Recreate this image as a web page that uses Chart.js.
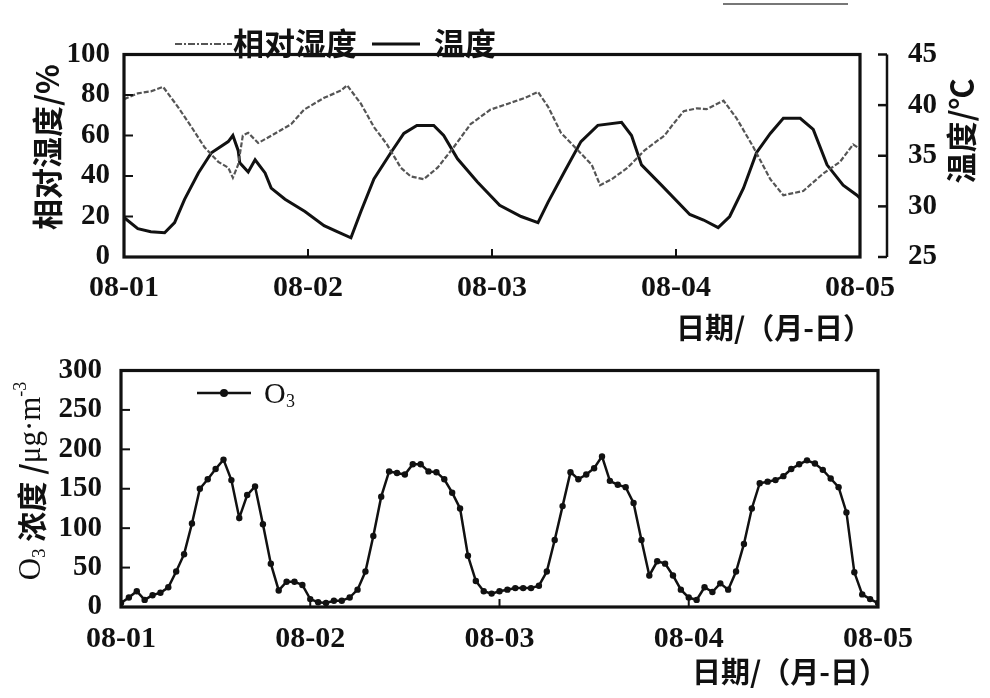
<!DOCTYPE html>
<html>
<head>
<meta charset="utf-8">
<script src="https://cdn.jsdelivr.net/npm/chart.js@4.4.0/dist/chart.umd.min.js"></script>
<style>
  html, body { margin: 0; padding: 0; background: #fff; }
  #wrap { position: relative; width: 990px; height: 698px; overflow: hidden; }
  #topChart { position: absolute; left: 0; top: 0; }
  #bottomChart { position: absolute; left: 0; top: 345px; }
  #cropLine { position: absolute; left: 723px; top: 3px; width: 125px; height: 2px; background: #777; }
</style>
</head>
<body>
<div id="wrap">
  <div id="cropLine"></div>
  <canvas id="topChart" width="990" height="345"></canvas>
  <canvas id="bottomChart" width="990" height="353"></canvas>
</div>
<script>
// x tick labels, one per day (hour 0, 24, 48, 72, 96)
const dateLabels = ['08-01', '08-02', '08-03', '08-04', '08-05'];

// temperature (°C), hours since 08-01 00:00
const tempHours = [0, 1.8, 3.5, 5.3, 6.6, 7.9, 9.7, 11.4, 13.6, 14.2, 14.9, 15.1, 16.2, 17.1, 18.4,
  19.2, 21, 23.6, 26.1, 27.8, 29.6, 30.9, 32.6, 34.8, 36.5, 38.2, 40.4, 41.7, 43.5, 46.1,
  49, 51.8, 54, 55.3, 57.5, 59.6, 61.8, 64.9, 66.2, 67.5, 70.1, 73.8, 75.6, 77.5, 79,
  80.8, 82.5, 84.3, 86, 88.2, 89.9, 91.7, 93.8, 95.6, 96];
const tempValues = [28.9, 27.8, 27.5, 27.4, 28.4, 30.7, 33.3, 35.3, 36.4, 37.0, 35.5, 34.3, 33.4, 34.6, 33.3,
  31.8, 30.7, 29.5, 28.1, 27.5, 26.9, 29.5, 32.7, 35.3, 37.2, 38.0, 38.0, 37.0, 34.7, 32.4,
  30.1, 29.0, 28.4, 30.4, 33.5, 36.4, 38.0, 38.3, 37.0, 34.1, 32.1, 29.2, 28.65, 27.9, 29.0,
  31.8, 35.3, 37.2, 38.7, 38.7, 37.6, 34.1, 32.1, 31.1, 30.8];

// relative humidity (%), dotted line
const humHours = [0, 1.8, 3.5, 5.1, 7, 8.8, 10.5, 12.3, 13.6, 14.2, 14.9, 15.5, 16.2, 17.5, 19.2,
  21.8, 23.5, 26.1, 28.3, 29.1, 30.9, 32.6, 34.3, 36.1, 37.4, 39.1, 40.9, 43, 45.2, 47.8,
  50.1, 52.3, 54, 55.3, 57, 59.2, 61, 62.1, 63.6, 65.7, 67.9, 70.5, 71.5, 73, 74.7,
  76, 78.2, 79.9, 82.1, 84.3, 86, 88.6, 91.2, 93.4, 95.1, 96];
const humValues = [77.9, 80.8, 81.8, 84, 74.3, 64.2, 54.2, 47, 44.1, 39.1, 45.7, 60, 61.3, 56.3, 59.9,
  65.6, 72.8, 78.6, 82.2, 84.8, 75.7, 64.2, 55.6, 44.1, 39.8, 38.4, 44.1, 54.2, 65.6, 72.8,
  75.7, 78.6, 81.5, 74.3, 61.3, 52.7, 45.6, 35.5, 38.4, 44.1, 52.7, 60, 65, 72, 73.4,
  73, 77.2, 68.5, 54.2, 38.4, 30.5, 32.6, 41.2, 47, 55.6, 53.4];

// hourly O3 (µg/m3), hour 0 .. 96
const o3Values = [
  5, 12, 20, 9, 15, 18, 25, 45, 67, 106, 150, 162, 175, 187, 161, 113, 142, 153, 105, 55, 21, 32, 32, 28, 10,
  6, 5, 8, 8, 12, 22, 45, 90, 140, 172, 170, 168, 181, 181, 172, 171, 162, 145, 125, 65, 33, 20, 17, 20,
  22, 24, 24, 24, 27, 45, 85, 128, 171, 162, 168, 176, 191, 160, 155, 152, 132, 85, 40, 58, 55, 40, 22, 12,
  9, 25, 19, 30, 22, 45, 80, 125, 157, 159, 161, 166, 175, 181, 186, 182, 174, 163, 152, 120, 44, 16, 10, 5
];

const serif = '"Liberation Serif", "Times New Roman", serif';
const cjk = '"Noto Sans CJK SC", "Noto Sans", sans-serif';
const ink = '#111';

function line(ctx, x1, y1, x2, y2) {
    ctx.beginPath();
    ctx.moveTo(x1, y1);
    ctx.lineTo(x2, y2);
    ctx.stroke();
}

function rotatedText(ctx, text, x, y, font) {
    ctx.save();
    ctx.translate(x, y);
    ctx.rotate(-Math.PI / 2);
    ctx.font = font;
    ctx.textAlign = 'center';
    ctx.textBaseline = 'middle';
    ctx.fillText(text, 0, 0);
    ctx.restore();
}

// box + inward ticks, shared by both charts
function drawFrame(chart) {
    const { ctx, chartArea: a } = chart;
    ctx.strokeStyle = ink;
    ctx.lineWidth = 3.2;
    ctx.strokeRect(a.left, a.top, a.right - a.left, a.bottom - a.top);
    ctx.lineWidth = 2;
    const xs = chart.scales.x;
    xs.ticks.forEach(t => {
        const px = xs.getPixelForValue(t.value);
        line(ctx, px, a.bottom, px, a.bottom - 8);
    });
    const ys = chart.scales.y;
    ys.ticks.forEach(t => {
        const py = ys.getPixelForValue(t.value);
        line(ctx, a.left, py, a.left + 9, py);
    });
}

const topDecor = {
    id: 'topDecor',
    afterDraw(chart) {
        const { ctx, chartArea: a } = chart;
        ctx.save();
        drawFrame(chart);

        // detached right axis for temperature
        const axisX = 887;
        const y1 = chart.scales.y1;
        ctx.lineWidth = 2.5;
        line(ctx, axisX, a.top, axisX, a.bottom);
        y1.ticks.forEach(t => {
            const py = y1.getPixelForValue(t.value);
            line(ctx, axisX, py, axisX - 9, py);
        });

        ctx.fillStyle = ink;
        rotatedText(ctx, '相对湿度/%', 47, 147, 'bold 31px ' + cjk);
        rotatedText(ctx, '温度/℃', 961, 131, 'bold 31px ' + cjk);

        ctx.font = 'bold 29px ' + cjk;
        ctx.textAlign = 'right';
        ctx.textBaseline = 'middle';
        ctx.fillText('日期/（月-日）', 872, 328);

        // legend inside the plot
        ctx.textAlign = 'left';
        ctx.font = 'bold 31px ' + cjk;
        ctx.strokeStyle = '#555';
        ctx.lineWidth = 2.2;
        ctx.setLineDash([7, 2, 2, 2]);
        line(ctx, 175, 44, 232, 44);
        ctx.setLineDash([]);
        ctx.fillText('相对湿度', 233, 43);
        ctx.strokeStyle = ink;
        ctx.lineWidth = 3;
        line(ctx, 372, 44, 420, 44);
        ctx.fillText('温度', 434, 43);
        ctx.restore();
    }
};

const bottomDecor = {
    id: 'bottomDecor',
    afterDraw(chart) {
        const { ctx } = chart;
        ctx.save();
        drawFrame(chart);
        ctx.fillStyle = ink;

        // y title: O3 浓度 /μg·m-3 with sub/superscripts
        const parts = [
            { t: 'O', f: '31px ' + serif, dy: 0 },
            { t: '3', f: '19px ' + serif, dy: 8 },
            { t: ' 浓度 /', f: 'bold 30px ' + cjk, dy: 0 },
            { t: 'μg·m', f: '31px ' + serif, dy: 0 },
            { t: '-3', f: '18px ' + serif, dy: -11 }
        ];
        let total = 0;
        parts.forEach(p => { ctx.font = p.f; p.w = ctx.measureText(p.t).width; total += p.w; });
        ctx.translate(32, 136);
        ctx.rotate(-Math.PI / 2);
        ctx.textBaseline = 'middle';
        ctx.textAlign = 'left';
        let cx = -total / 2;
        parts.forEach(p => { ctx.font = p.f; ctx.fillText(p.t, cx, p.dy); cx += p.w; });
        ctx.restore();
        ctx.save();
        ctx.fillStyle = ink;

        ctx.font = 'bold 29px ' + cjk;
        ctx.textAlign = 'right';
        ctx.textBaseline = 'middle';
        ctx.fillText('日期/（月-日）', 888, 327);

        // legend
        ctx.strokeStyle = ink;
        ctx.lineWidth = 2.5;
        line(ctx, 197, 48, 251, 48);
        ctx.beginPath();
        ctx.arc(224, 48, 4, 0, Math.PI * 2);
        ctx.fill();
        ctx.textAlign = 'left';
        ctx.font = '30px ' + serif;
        ctx.fillText('O', 264, 50);
        ctx.font = '18px ' + serif;
        ctx.fillText('3', 286, 57);
        ctx.restore();
    }
};

const tickFont = { family: serif, size: 29, weight: 'bold', lineHeight: 1 };
const dateFont = { family: serif, size: 30, weight: 'bold', lineHeight: 1 };

new Chart(document.getElementById('topChart'), {
    type: 'line',
    data: {
        datasets: [{
            label: '相对湿度',
            data: humHours.map((h, i) => ({ x: h, y: humValues[i] })),
            yAxisID: 'y',
            borderColor: '#555',
            borderWidth: 2.2,
            borderDash: [5, 2],
            pointRadius: 0
        }, {
            label: '温度',
            data: tempHours.map((h, i) => ({ x: h, y: tempValues[i] })),
            yAxisID: 'y1',
            borderColor: ink,
            borderWidth: 3,
            pointRadius: 0
        }]
    },
    options: {
        responsive: false,
        animation: false,
        layout: { padding: { top: 24, left: 0, right: 0, bottom: 0 } },
        plugins: { legend: { display: false }, tooltip: { enabled: false } },
        scales: {
            x: {
                type: 'linear', min: 0, max: 96,
                grid: { display: false }, border: { display: false },
                ticks: {
                    stepSize: 24, autoSkip: false, maxRotation: 0, padding: 8, color: ink,
                    font: dateFont,
                    callback: v => dateLabels[Math.round(v / 24)]
                },
                afterFit: s => { s.height = 88; }
            },
            y: {
                position: 'left', min: 0, max: 100,
                grid: { display: false }, border: { display: false },
                ticks: { stepSize: 20, padding: 6, color: ink, font: tickFont },
                afterFit: s => { s.width = 124; }
            },
            y1: {
                position: 'right', min: 25, max: 45,
                grid: { display: false }, border: { display: false },
                ticks: { stepSize: 5, padding: 40, color: ink, font: tickFont },
                afterFit: s => { s.width = 130; }
            }
        }
    },
    plugins: [topDecor]
});

new Chart(document.getElementById('bottomChart'), {
    type: 'line',
    data: {
        datasets: [{
            label: 'O3',
            data: o3Values.map((v, h) => ({ x: h, y: v })),
            borderColor: ink,
            borderWidth: 2.5,
            pointRadius: 3.2,
            pointBackgroundColor: ink,
            pointBorderWidth: 0
        }]
    },
    options: {
        responsive: false,
        animation: false,
        layout: { padding: { top: 15, left: 0, right: 112, bottom: 0 } },
        plugins: { legend: { display: false }, tooltip: { enabled: false } },
        scales: {
            x: {
                type: 'linear', min: 0, max: 96,
                grid: { display: false }, border: { display: false },
                ticks: {
                    stepSize: 24, autoSkip: false, maxRotation: 0, padding: 9, color: ink,
                    font: dateFont,
                    callback: v => dateLabels[Math.round(v / 24)]
                },
                afterFit: s => { s.height = 91; }
            },
            y: {
                min: 0, max: 300,
                grid: { display: false }, border: { display: false },
                ticks: { stepSize: 50, padding: 11, color: ink, font: tickFont },
                afterFit: s => { s.width = 121; }
            }
        }
    },
    plugins: [bottomDecor]
});
</script>
</body>
</html>
